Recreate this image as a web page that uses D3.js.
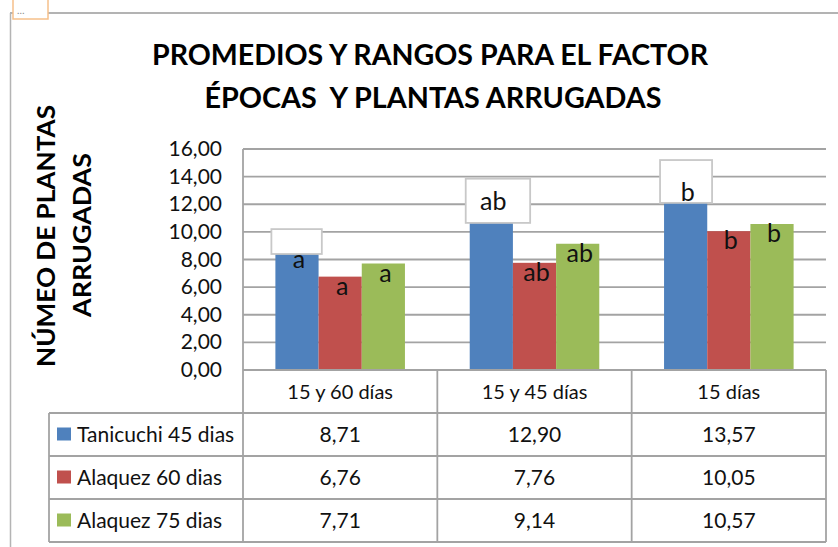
<!DOCTYPE html>
<html><head><meta charset="utf-8">
<script src="https://cdn.jsdelivr.net/npm/d3@7"></script>
<style>body{margin:0;background:#fff;} svg{display:block;font-family:Lato,"Open Sans",sans-serif;}</style>
</head><body><svg id="c" width="838" height="547"></svg>
<script>
// ---- data ----
const categories = ["15 y 60 días", "15 y 45 días", "15 días"];
const seriesNames = ["Tanicuchi 45 dias", "Alaquez 60 dias", "Alaquez 75 dias"];
const tanicuchi45 = [8.71, 12.90, 13.57];
const alaquez60 = [6.76, 7.76, 10.05];
const alaquez75 = [7.71, 9.14, 10.57];
const lettersTanicuchi45 = ["a", "ab", "b"];
const lettersAlaquez60 = ["a", "ab", "b"];
const lettersAlaquez75 = ["a", "ab", "b"];
const yTicks = [0, 2, 4, 6, 8, 10, 12, 14, 16];
// white annotation frames over the first series (value range)
const frameLow = [8.4, 10.65, 12.1];
const frameHigh = [10.2, 13.85, 15.2];
const titleLines = ["PROMEDIOS Y RANGOS PARA EL FACTOR", "ÉPOCAS  Y PLANTAS ARRUGADAS"];
const yTitleLines = ["NÚMEO DE PLANTAS", "ARRUGADAS"];

const values = [tanicuchi45, alaquez60, alaquez75];
const letters = [lettersTanicuchi45, lettersAlaquez60, lettersAlaquez75];
const colors = ["#4F81BD", "#C0504D", "#9BBB59"];

const locale = d3.formatLocale({decimal: ",", thousands: ".", grouping: [3], currency: ["", ""]});
const fmt = locale.format(".2f");

const svg = d3.select("#c");
const plotL = 243, plotR = 826, plotT = 149, plotB = 370;
const tableL = 49, rowH = 43;
const gridC = "#a3a3a3";
const txtC = "#111";
const fs = 21;

const x0 = d3.scaleBand().domain(categories).range([plotL, plotR]).padding(0);
const gw = x0.bandwidth();
const barW = gw / 4.5;
const x1 = d3.scaleBand().domain(d3.range(seriesNames.length)).range([0.75 * barW, gw - 0.75 * barW]).padding(0);
const y = d3.scaleLinear().domain([0, 16]).range([plotB, plotT]);

// outer frame
svg.append("line").attr("x1", 10).attr("x2", 838).attr("y1", 13).attr("y2", 13).attr("stroke", "#9a9a9a").attr("stroke-width", 1.5);
svg.append("line").attr("x1", 10.5).attr("x2", 10.5).attr("y1", 13).attr("y2", 547).attr("stroke", "#b4b4b4").attr("stroke-width", 1.5);
svg.append("rect").attr("x", 13).attr("y", -2).attr("width", 35).attr("height", 21).attr("fill", "#fff").attr("stroke", "#f6c08a").attr("stroke-width", 1.5);
svg.append("text").attr("x", 17).attr("y", 14).attr("font-size", 10).attr("fill", "#888").text("…");

// title
svg.append("g").selectAll("text").data(titleLines).join("text")
  .attr("x", (d, i) => i ? 433 : 430).attr("y", (d, i) => 65 + i * 43)
  .attr("text-anchor", "middle").attr("font-weight", "bold").attr("font-size", 29)
  .style("white-space", "pre")
  .attr("textLength", (d, i) => i ? 457 : 556).attr("lengthAdjust", "spacingAndGlyphs")
  .text(d => d);

// y title
svg.append("g").selectAll("text").data(yTitleLines).join("text")
  .attr("transform", (d, i) => `translate(${i ? 91 : 55},${i ? 235 : 236}) rotate(-90)`)
  .attr("text-anchor", "middle").attr("font-weight", "bold").attr("font-size", 25)
  .attr("textLength", (d, i) => i ? 164 : 262).attr("lengthAdjust", "spacingAndGlyphs")
  .text(d => d);

// gridlines
svg.append("g").selectAll("line").data(yTicks).join("line")
  .attr("x1", plotL).attr("x2", plotR).attr("y1", d => y(d)).attr("y2", d => y(d))
  .attr("stroke", gridC).attr("stroke-width", 1.8);
svg.append("line").attr("x1", plotL).attr("x2", plotL).attr("y1", plotT).attr("y2", plotB)
  .attr("stroke", gridC).attr("stroke-width", 1.8);

// y tick labels
svg.append("g").selectAll("text").data(yTicks).join("text")
  .attr("x", 222).attr("y", d => y(d) + 7).attr("text-anchor", "end")
  .attr("font-size", fs).attr("fill", txtC).text(d => fmt(d));

// bars
const groups = svg.append("g").selectAll("g").data(categories).join("g")
  .attr("transform", d => `translate(${x0(d)},0)`);
groups.selectAll("rect").data((c, ci) => values.map((s, si) => ({si, v: s[ci]}))).join("rect")
  .attr("x", d => x1(d.si)).attr("width", x1.bandwidth())
  .attr("y", d => y(d.v)).attr("height", d => y(0) - y(d.v))
  .attr("fill", d => colors[d.si]);

// annotation frames
const lblSize = 25;
const measure = svg.append("text").attr("font-size", lblSize).attr("visibility", "hidden");
const lblDx = [];
categories.forEach((c, ci) => {
  measure.text(letters[0][ci]);
  const tw = measure.node().getComputedTextLength();
  const w = Math.max(50, tw + 38);
  svg.append("rect")
    .attr("x", x0(c) + x1(0) - 4).attr("width", w)
    .attr("y", y(frameHigh[ci])).attr("height", y(frameLow[ci]) - y(frameHigh[ci]))
    .attr("fill", "#fff").attr("stroke", "#c8c8c8").attr("stroke-width", 1.8);
});
measure.remove();

// data labels (on top of frames)
const lblGroups = svg.append("g").selectAll("g").data(categories).join("g")
  .attr("transform", d => `translate(${x0(d)},0)`);
lblGroups.selectAll("text").data((c, ci) => values.map((s, si) => ({si, v: s[ci], t: letters[si][ci]}))).join("text")
  .attr("x", d => x1(d.si) + x1.bandwidth() / 2 + 2).attr("y", d => y(d.v) + 18)
  .attr("text-anchor", "middle").attr("font-size", lblSize).attr("fill", txtC)
  .text(d => d.t);

// data table
const tg = svg.append("g").attr("stroke", gridC).attr("stroke-width", 1.8);
const nRows = seriesNames.length;
const tableB = plotB + rowH * (nRows + 1);
tg.append("line").attr("x1", plotL).attr("x2", plotR).attr("y1", plotB).attr("y2", plotB);
d3.range(1, nRows + 2).forEach(r => {
  tg.append("line").attr("x1", tableL).attr("x2", plotR).attr("y1", plotB + r * rowH).attr("y2", plotB + r * rowH);
});
tg.append("line").attr("x1", tableL).attr("x2", tableL).attr("y1", plotB + rowH).attr("y2", tableB);
categories.forEach(c => {
  tg.append("line").attr("x1", x0(c)).attr("x2", x0(c)).attr("y1", plotB).attr("y2", tableB);
});
tg.append("line").attr("x1", plotR).attr("x2", plotR).attr("y1", plotB).attr("y2", tableB);

// header
svg.append("g").selectAll("text").data(categories).join("text")
  .attr("x", d => x0(d) + gw / 2).attr("y", plotB + rowH / 2 + 7)
  .attr("text-anchor", "middle").attr("font-size", 20).attr("fill", txtC).text(d => d);

// rows
seriesNames.forEach((s, si) => {
  const cy = plotB + rowH * (si + 1) + rowH / 2;
  svg.append("rect").attr("x", 57).attr("y", cy - 7).attr("width", 14).attr("height", 13).attr("fill", colors[si]);
  svg.append("text").attr("x", 77).attr("y", cy + 7).attr("font-size", fs).attr("fill", txtC).text(s);
  svg.append("g").selectAll("text").data(values[si]).join("text")
    .attr("x", (d, ci) => x0(categories[ci]) + gw / 2).attr("y", cy + 7)
    .attr("text-anchor", "middle").attr("font-size", fs).attr("fill", txtC).text(d => fmt(d));
});
</script></body></html>
